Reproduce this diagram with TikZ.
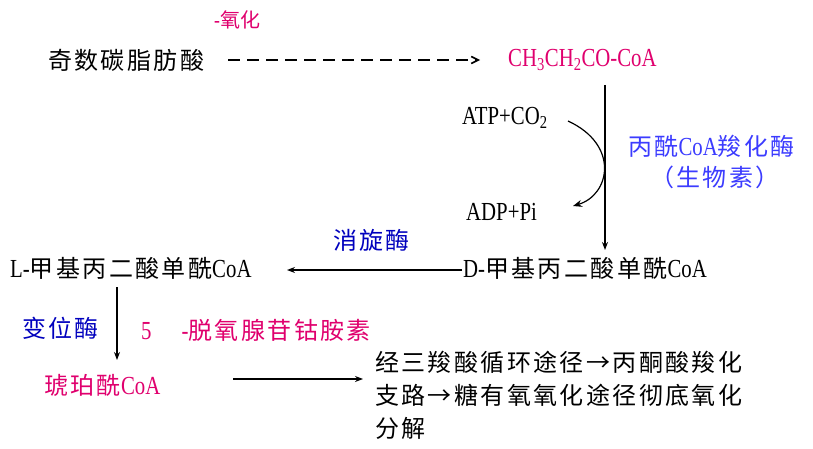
\documentclass[tikz,border=0pt]{standalone}
\usepackage{fontspec}
\setmainfont{Liberation Serif}[FakeStretch=0.8]
\newfontfamily\zhf[LetterSpace=10]{Noto Sans CJK SC}
\newfontfamily\zhn{Noto Sans CJK SC}
\newcommand\zh{\zhf\fontsize{24}{33}\selectfont}
\usetikzlibrary{arrows.meta}
\definecolor{mag}{RGB}{224,0,110}
\definecolor{lblue}{RGB}{60,60,255}
\definecolor{dblue}{RGB}{0,0,190}
\tikzset{
  lbl/.style={inner sep=0pt, anchor=west, font=\fontsize{26}{28}\selectfont},
  arr/.style={-{Stealth[length=8pt,width=6pt]}, line width=1.4pt},
}
\begin{document}
\begin{tikzpicture}[x=1pt,y=-1pt]
\useasboundingbox (0,0) rectangle (813,449);
\fill[white] (0,0) rectangle (813,449);
\node[lbl, text=mag, font=\fontsize{22}{24}\selectfont] (beta) at (214,20) {-{\zhn\fontsize{20}{24}\selectfont 氧化}};
\node[lbl] (odd) at (48,60) {\zh 奇数碳脂肪酸};
\node[lbl, text=mag] (prop) at (508,60) {CH\textsubscript{3}CH\textsubscript{2}CO-CoA};
\node[lbl] (atp) at (462,118) {ATP+CO\textsubscript{2}};
\node[lbl] (adp) at (466,212) {ADP+Pi};
\node[lbl, text=lblue] (enz1) at (628,146) {{\zh 丙酰}CoA{\zh 羧化酶}};
\node[lbl, text=lblue] (biot) at (650,177) {\zh （生物素）};
\node[lbl] (dmm) at (463,268) {D-{\zh 甲基丙二酸单酰}CoA};
\node[lbl] (lmm) at (10,268) {L-{\zh 甲基丙二酸单酰}CoA};
\node[lbl, text=dblue] (race) at (333,240) {\zh 消旋酶};
\node[lbl, text=dblue] (mut) at (22,328) {\zh 变位酶};
\node[lbl, text=mag] (cob) at (141,330) {5\hspace{30pt}-{\zh 脱氧腺苷钴胺素}};
\node[lbl, text=mag] (succ) at (44,385) {{\zh 琥珀酰}CoA};
\node[lbl, align=left, font=\zh] (tca) at (375,395) {经三羧酸循环途径→丙酮酸羧化\\支路→糖有氧氧化途径彻底氧化\\分解};
\coordinate (dashS) at (228,60);
\coordinate (dashE) at (480,60);
\draw[-{Straight Barb[length=7pt,width=7pt]}, line width=1.6pt, dash pattern=on 12pt off 7pt] (dashS) -- (dashE);
\coordinate (vS) at (605,85);
\coordinate (vE) at (605,250);
\draw[arr, line width=1.2pt] (vS) -- (vE);
\coordinate (cS) at (568,121);
\coordinate (cE) at (573,206);
\draw[-{Stealth[length=9pt,width=7pt]}, line width=1.2pt] (cS) .. controls (620,145) and (610,195) .. (cE);
\coordinate (hS) at (462,270);
\coordinate (hE) at (287,270);
\draw[arr] (hS) -- (hE);
\coordinate (v2S) at (117,287);
\coordinate (v2E) at (117,360);
\draw[arr, line width=1.2pt] (v2S) -- (v2E);
\coordinate (h2S) at (233,379);
\coordinate (h2E) at (363,379);
\draw[arr, line width=1.6pt] (h2S) -- (h2E);
\end{tikzpicture}
\end{document}
